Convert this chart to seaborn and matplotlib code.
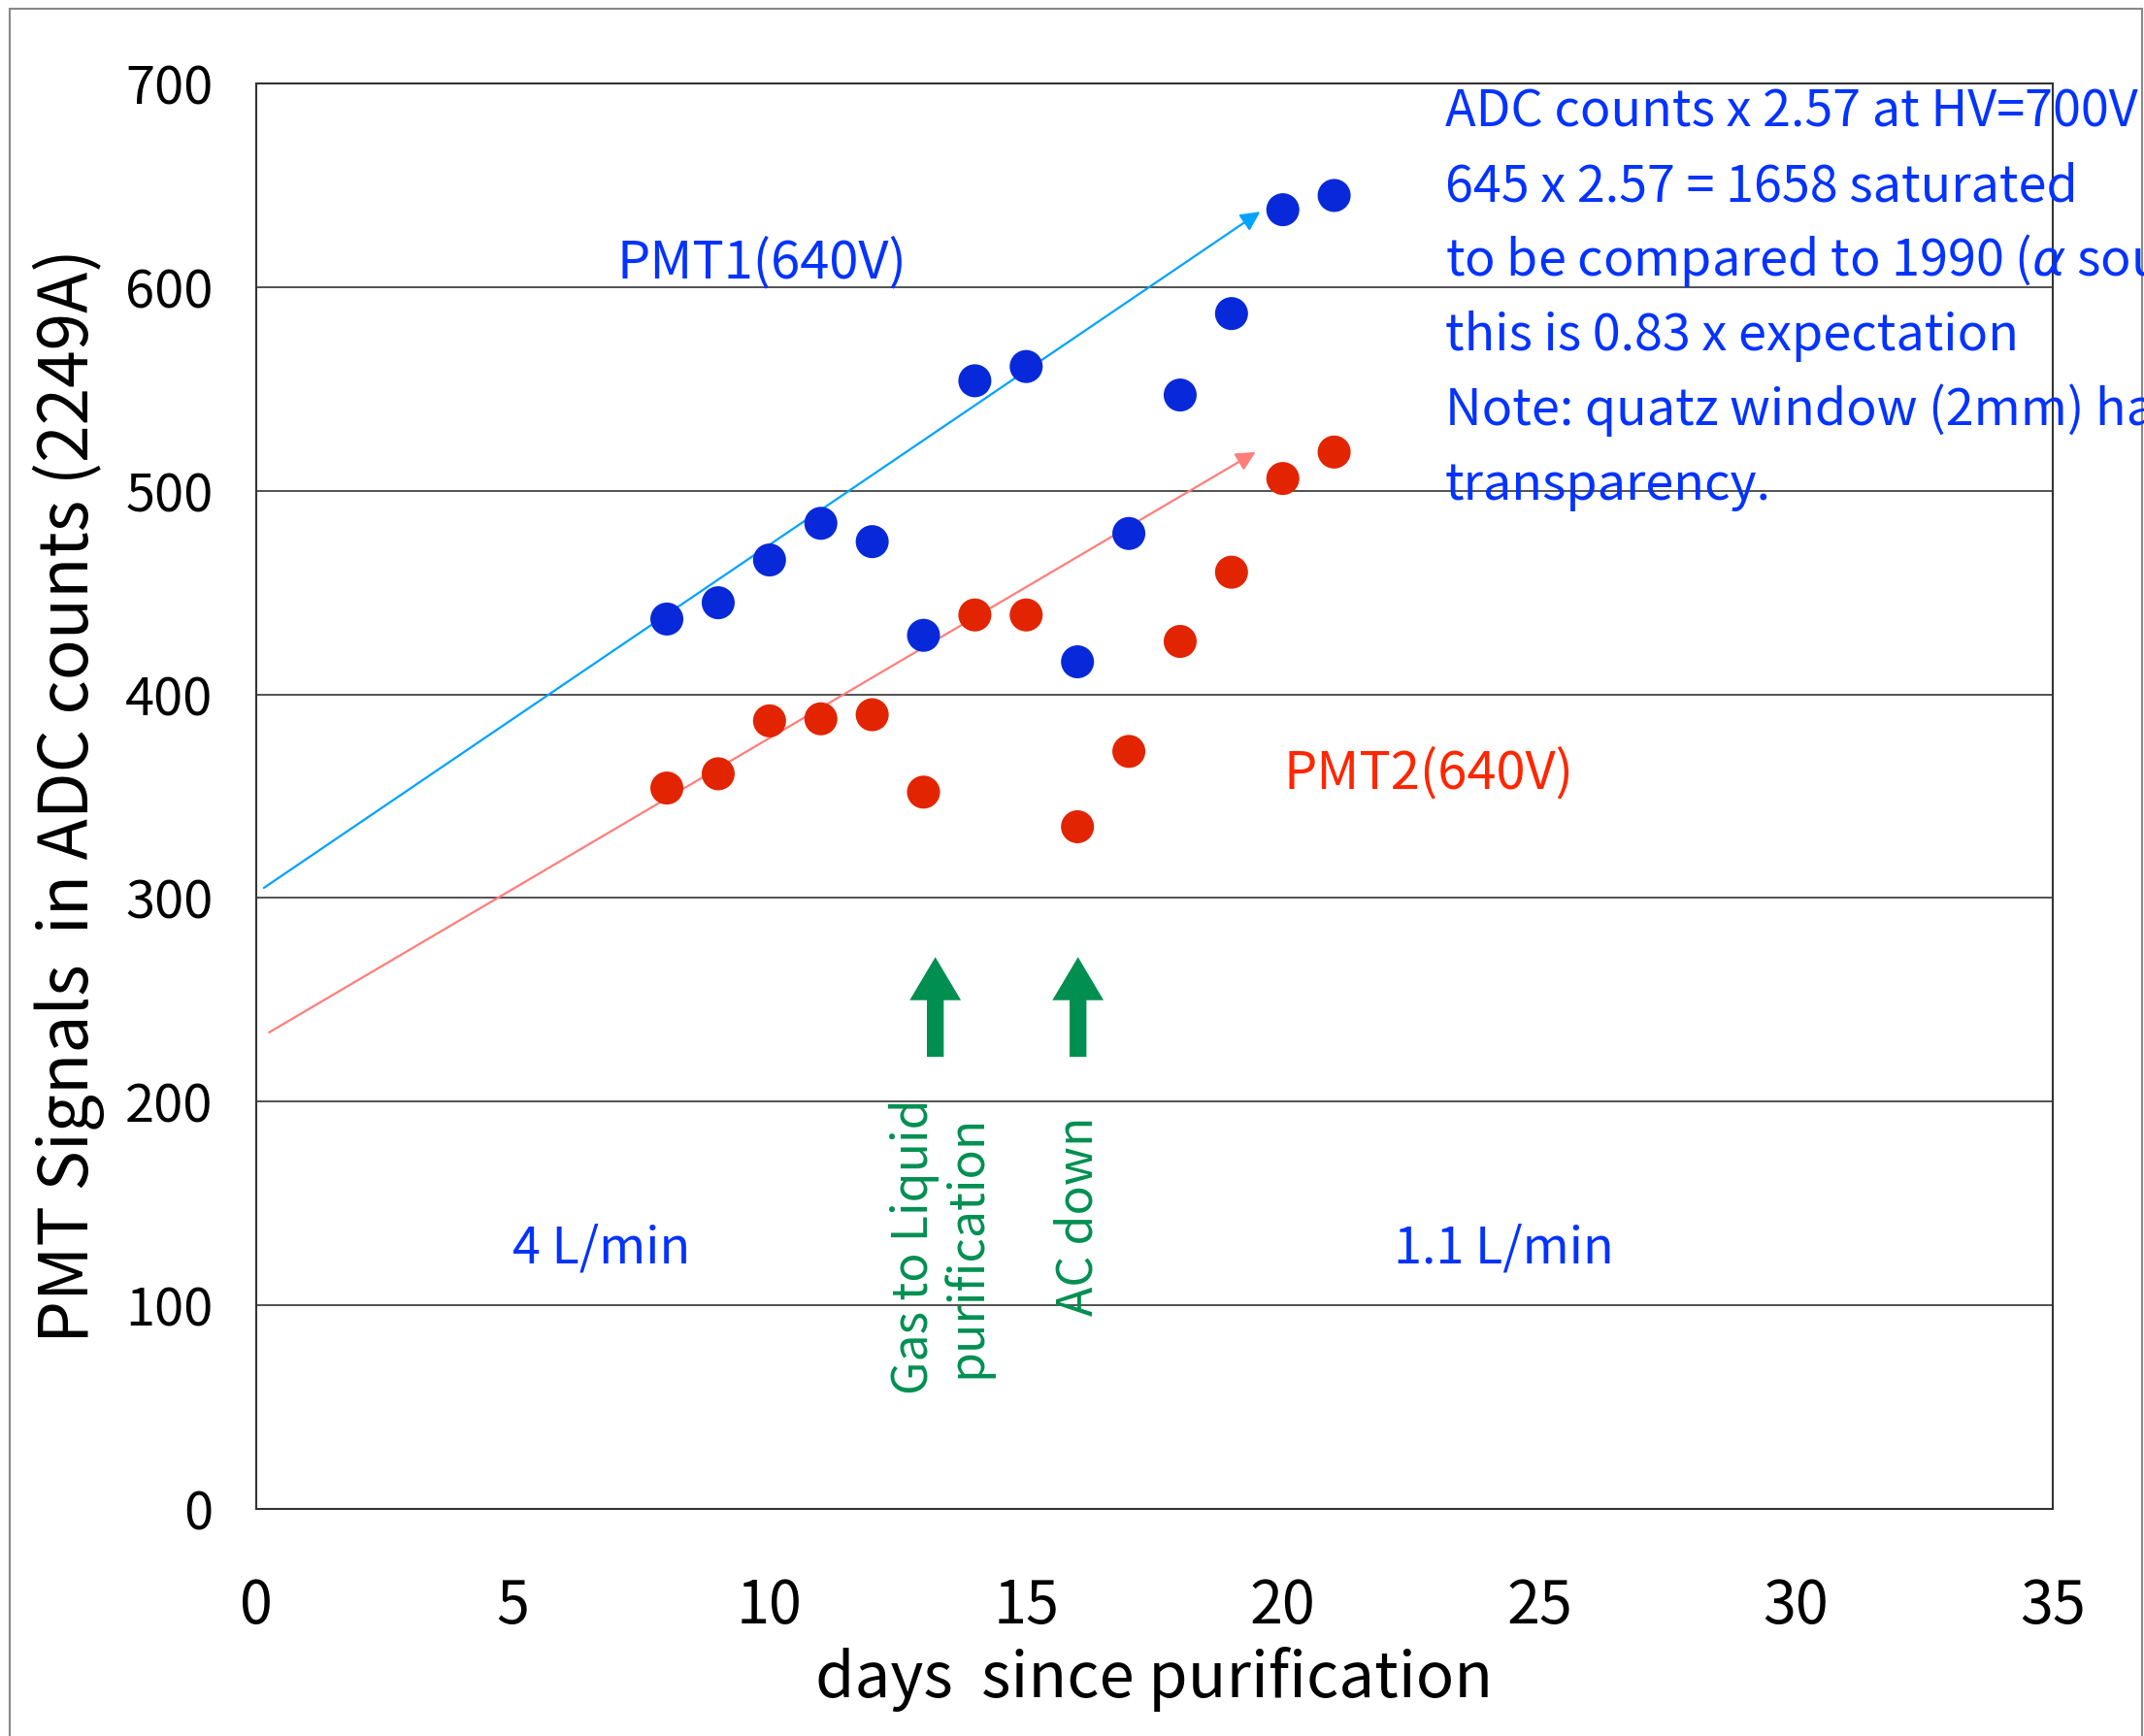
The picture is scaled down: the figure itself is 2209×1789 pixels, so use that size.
import numpy as np
import pandas as pd
import matplotlib
matplotlib.use("Agg")
import matplotlib.pyplot as plt
from matplotlib.patches import Rectangle
import seaborn as sns

# ---------------- data ----------------
days = [8, 9, 10, 11, 12, 13, 14, 15, 16, 17, 18, 19, 20, 21]
pmt1 = [437, 445, 466, 484, 475, 429, 554, 561, 416, 479, 547, 587, 638, 645]
pmt2 = [354, 361, 387, 388, 390, 352, 439, 439, 335, 372, 426, 460, 506, 519]
series_names = ["PMT1(640V)", "PMT2(640V)"]

# trend arrows (start x, start y) -> (end x, end y)
trend1_start = [0.15, 305]
trend1_end = [19.56, 637]
trend2_start = [0.25, 234]
trend2_end = [19.47, 519]

# event markers
event_x = [13.23, 16.01]
event_tip = [271, 271]
event_base = [222, 222]
event_labels = ["Gas to Liquid\npurification", "AC down"]
event_label_x = [13.33, 16.02]
event_label_y = [129, 144]

x_ticks = [0, 5, 10, 15, 20, 25, 30, 35]
y_ticks = [0, 100, 200, 300, 400, 500, 600, 700]

note_lines = [
    "ADC counts x 2.57 at HV=700V",
    "645 x 2.57 = 1658 saturated",
    "to be compared to 1990 ($\\alpha$ source)",
    "this is 0.83 x expectation",
    "Note: quatz window (2mm) has",
    "transparency.",
]

# ---------------- style ----------------
sns.set_theme(style="white")
plt.rcParams["font.family"] = ["Noto Sans CJK JP", "DejaVu Sans"]
plt.rcParams["mathtext.fontset"] = "dejavusans"

BLUE_DOT = "#0829DA"
RED_DOT = "#E32400"
BLUE_TXT = "#0433FF"
RED_TXT = "#FF2600"
AQUA = "#00A2FF"
SALMON = "#FF7E79"
GREEN = "#008F51"
DARK = "#333333"

W, H, DPI = 2209, 1789, 100
fig = plt.figure(figsize=(W / DPI, H / DPI), dpi=DPI)
fig.patch.set_facecolor("white")
ax = fig.add_axes([264 / W, 1 - 1555 / H, (2115 - 264) / W, (1555 - 86) / H])

# outer frame
fig.patches.append(Rectangle((10 / W, -0.01), (2207 - 10) / W, 1 - 9 / H + 0.01,
                             transform=fig.transFigure, fill=False,
                             edgecolor="#888888", linewidth=1.5, zorder=0))

df = pd.DataFrame({
    "days": days * 2,
    "signal": pmt1 + pmt2,
    "pmt": [series_names[0]] * len(days) + [series_names[1]] * len(days),
})

ax.set_xlim(0, 35)
ax.set_ylim(0, 700)
ax.set_yticks(y_ticks)
ax.set_xticks(x_ticks)
ax.yaxis.grid(True, color=DARK, linewidth=1.2)
ax.xaxis.grid(False)
ax.set_axisbelow(True)
for sp in ax.spines.values():
    sp.set_color(DARK)
    sp.set_linewidth(1.5)

# trend arrows
for s, e, c in [(trend1_start, trend1_end, AQUA), (trend2_start, trend2_end, SALMON)]:
    ax.annotate("", xy=(e[0], e[1]), xytext=(s[0], s[1]),
                arrowprops=dict(arrowstyle="-|>,head_length=12,head_width=6",
                                mutation_scale=1, color=c, linewidth=1.6,
                                shrinkA=0, shrinkB=0), zorder=3)

sns.scatterplot(data=df, x="days", y="signal", hue="pmt",
                palette={series_names[0]: BLUE_DOT, series_names[1]: RED_DOT},
                s=600, edgecolor="none", linewidth=0, legend=False, ax=ax, zorder=4)

ax.tick_params(axis="x", direction="in", length=14.4, width=1.2, color="#888888",
               labelsize=44, pad=50, labelcolor="black")
ax.tick_params(axis="y", length=0, labelsize=39, pad=32, labelcolor="black")

ax.set_xlabel("days  since purification", fontsize=47, labelpad=7, color="black")
ax.set_ylabel("PMT Signals  in ADC counts (2249A)", fontsize=50, labelpad=15, color="black")

# series labels
ax.text(9.85, 612, series_names[0], color=BLUE_TXT, fontsize=39, ha="center", va="center")
ax.text(22.85, 361, series_names[1], color=RED_TXT, fontsize=39, ha="center", va="center")

# flow labels
ax.text(6.73, 128, "4 L/min", color=BLUE_TXT, fontsize=37.5, ha="center", va="center")
ax.text(24.3, 128, "1.1 L/min", color=BLUE_TXT, fontsize=37.5, ha="center", va="center")

# event arrows and labels
for x, tip, base, lab, lx, ly in zip(event_x, event_tip, event_base, event_labels,
                                     event_label_x, event_label_y):
    ax.annotate("", xy=(x, tip), xytext=(x, base),
                arrowprops=dict(arrowstyle="simple,head_length=32,head_width=38,tail_width=12.5",
                                mutation_scale=1, color=GREEN, linewidth=0,
                                shrinkA=0, shrinkB=0), zorder=3)
    ax.text(lx, ly, lab, color=GREEN, fontsize=36, rotation=90, ha="center", va="center",
            multialignment="center", linespacing=1.05)

# notes (one line each, baselines evenly spaced)
for i, line in enumerate(note_lines):
    fig.text(1489 / W, 1 - (130.7 + 76.9 * i) / H, line, color=BLUE_TXT, fontsize=37.5,
             ha="left", va="baseline")

fig.savefig("out.png", dpi=DPI, facecolor="white")
